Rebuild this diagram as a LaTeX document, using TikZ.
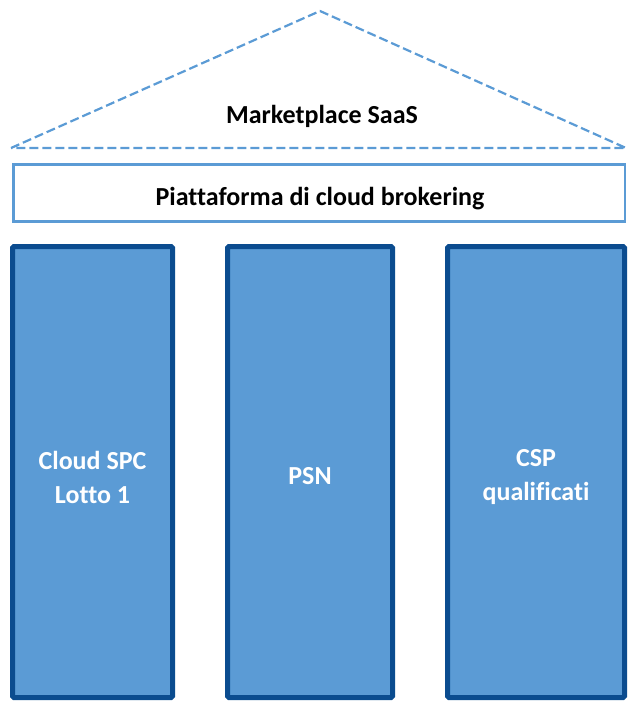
\documentclass[tikz,border=0pt]{standalone}
\usepackage{fontspec}
\setmainfont{Carlito}[Ligatures=NoCommon]
\definecolor{pillarfill}{HTML}{5B9BD5}
\definecolor{pillarline}{HTML}{0B4C8F}
\definecolor{roofline}{HTML}{5B9BD5}
\tikzset{
  x=1pt, y=-1pt,
  pillar/.style={fill=pillarfill, draw=pillarline, line width=5pt, rounded corners=1.5pt},
  pillartext/.style={text=white, font=\bfseries\fontsize{26}{34}\selectfont, align=center},
  roof/.style={draw=roofline, line width=2.2pt, dash pattern=on 9pt off 4pt},
  platform/.style={draw=roofline, line width=2.5pt, fill=white},
  blacktext/.style={text=black, font=\bfseries\fontsize{26}{30}\selectfont}
}
\begin{document}
\begin{tikzpicture}
  \useasboundingbox (0,0) rectangle (627,701);
  % roof
  \coordinate (rl) at (11,148);
  \coordinate (rt) at (320,11);
  \coordinate (rr) at (626,148);
  \draw[roof] (rl) -- (rt) -- (rr) -- cycle;
  \node[blacktext] (market) at (322,116) {Marketplace SaaS};
  % brokering platform
  \draw[platform] (13.5,164.5) rectangle (625,221.5);
  \node[blacktext] (broker) at (320,199) {Piattaforma di cloud brokering};
  % pillars
  \draw[pillar] (12.5,246.5) rectangle (172.5,697.5);
  \draw[pillar] (227.5,246.5) rectangle (392.5,697.5);
  \draw[pillar] (447.5,246.5) rectangle (624.5,697.5);
  \node[pillartext] (p1) at (92.5,477) {Cloud SPC\\Lotto 1};
  \node[pillartext] (p2) at (310,476) {PSN};
  \node[pillartext] (p3) at (536,477) {CSP\\qualificati};
\end{tikzpicture}
\end{document}
